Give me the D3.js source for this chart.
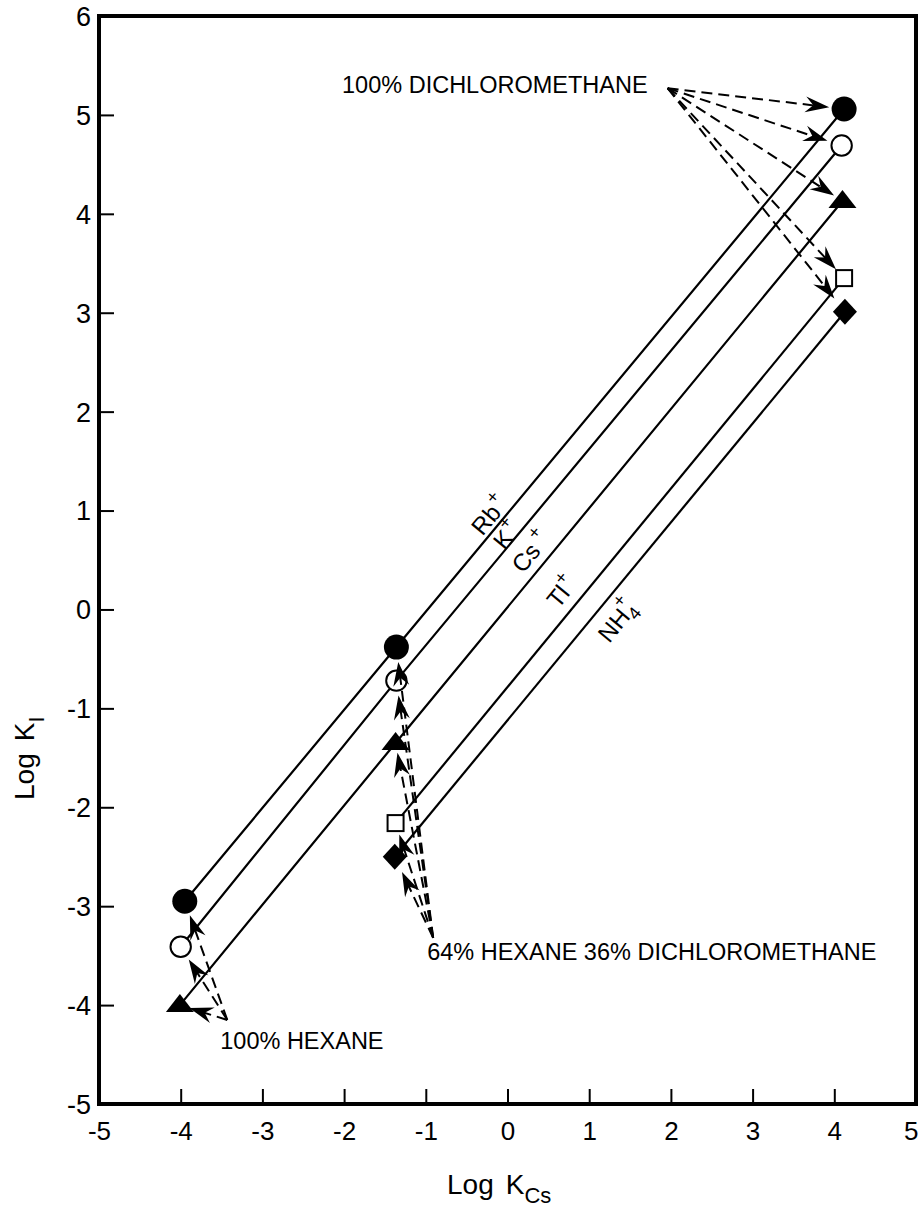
<!DOCTYPE html>
<html>
<head>
<meta charset="utf-8">
<script src="https://cdn.jsdelivr.net/npm/d3@7"></script>
<style>
  html, body { margin: 0; padding: 0; background: #fff; }
  svg { display: block; font-family: "Liberation Sans", Arial, Helvetica, sans-serif; }
</style>
</head>
<body>
<svg id="chart" width="919" height="1208"></svg>
<script>
// Log K_I plotted against Log K_Cs for five cations in three solvents.
const xTickValues = [-5, -4, -3, -2, -1, 0, 1, 2, 3, 4, 5];
const yTickValues = [-5, -4, -3, -2, -1, 0, 1, 2, 3, 4, 5, 6];

// Points ordered hexane -> 64% hexane / 36% CH2Cl2 -> dichloromethane
const rbLogKCs = [-3.95, -1.36, 4.12];
const rbLogK   = [-2.95, -0.38, 5.06];
const kLogKCs  = [-4.00, -1.36, 4.09];
const kLogK    = [-3.41, -0.72, 4.69];
const csLogKCs = [-4.01, -1.37, 4.10];
const csLogK   = [-4.00, -1.35, 4.13];
const tlLogKCs = [-1.37, 4.12];
const tlLogK   = [-2.16, 3.35];
const nhLogKCs = [-1.38, 4.13];
const nhLogK   = [-2.50, 3.01];

// Solvent call-outs: text and the point the arrows fan out from
const solventNames   = ["100% DICHLOROMETHANE", "64% HEXANE 36% DICHLOROMETHANE", "100% HEXANE"];
const solventAnchorX = [1.96, -0.91, -3.43];
const solventAnchorY = [5.27, -3.32, -4.15];

const series = [
  { ion: "Rb", x: rbLogKCs, y: rbLogK, symbol: "filledCircle" },
  { ion: "K",  x: kLogKCs,  y: kLogK,  symbol: "openCircle" },
  { ion: "Cs", x: csLogKCs, y: csLogK, symbol: "triangle" },
  { ion: "Tl", x: tlLogKCs, y: tlLogK, symbol: "square" },
  { ion: "NH4", x: nhLogKCs, y: nhLogK, symbol: "diamond" }
];

// Which point of which series each arrow of a call-out points at
const calloutTargets = [
  [[0, 2], [1, 2], [2, 2], [3, 1], [4, 1]],
  [[0, 1], [1, 1], [2, 1], [3, 0], [4, 0]],
  [[0, 0], [1, 0], [2, 0]]
];

const plot = { left: 99, right: 916, top: 16, bottom: 1104 };

const x = d3.scaleLinear().domain([-5, 5]).range([plot.left, plot.right]);
const y = d3.scaleLinear().domain([-5, 6]).range([plot.bottom, plot.top]);

const svg = d3.select("#chart");

// ---- axes (ticks point into the plot) ----
const xAxis = d3.axisBottom(x).tickValues(xTickValues).tickSizeInner(-15).tickSizeOuter(0)
  .tickFormat(d => String(d));
const gx = svg.append("g").attr("transform", `translate(0,${plot.bottom})`).call(xAxis);
gx.select(".domain").remove();
gx.selectAll(".tick line").attr("stroke", "#000").attr("stroke-width", 2)
  .filter(d => d === -5 || d === 5).remove();
gx.selectAll(".tick text").attr("y", 36).attr("dy", 0).attr("fill", "#000")
  .attr("font-size", 26).attr("font-family", null);
gx.selectAll(".tick text").filter(d => d === 5).attr("text-anchor", "end").attr("x", 2);

const yAxis = d3.axisLeft(y).tickValues(yTickValues).tickSizeInner(-15).tickSizeOuter(0)
  .tickFormat(d => String(d));
const gy = svg.append("g").attr("transform", `translate(${plot.left},0)`).call(yAxis);
gy.select(".domain").remove();
gy.selectAll(".tick line").attr("stroke", "#000").attr("stroke-width", 2)
  .filter(d => d === -5 || d === 6).remove();
gy.selectAll(".tick text").attr("x", -8).attr("dy", "0.35em").attr("fill", "#000")
  .attr("font-size", 27).attr("font-family", null);

// frame
svg.append("rect")
  .attr("x", plot.left).attr("y", plot.top)
  .attr("width", plot.right - plot.left).attr("height", plot.bottom - plot.top)
  .attr("fill", "none").attr("stroke", "#000").attr("stroke-width", 4);

// axis titles
const xTitle = svg.append("text").attr("x", 447).attr("y", 1194).attr("font-size", 28).attr("fill", "#000");
xTitle.append("tspan").text("Log");
xTitle.append("tspan").attr("dx", 12).text("K");
xTitle.append("tspan").attr("dy", 9).attr("font-size", 22).text("Cs");

const yTitle = svg.append("text").attr("transform", "translate(34,800) rotate(-90)")
  .attr("font-size", 28).attr("fill", "#000");
yTitle.append("tspan").text("Log");
yTitle.append("tspan").attr("dx", 12).text("K");
yTitle.append("tspan").attr("dy", 10).attr("font-size", 22).text("I");

// ---- correlation lines ----
const line = d3.line().x(d => x(d[0])).y(d => y(d[1]));
const gLines = svg.append("g");
series.forEach(s => {
  const pts = s.x.map((v, i) => [v, s.y[i]]);
  gLines.append("path").attr("d", line(pts))
    .attr("fill", "none").attr("stroke", "#000").attr("stroke-width", 2.2);
});

// ---- ion labels laid along their lines ----
const labelPlacement = {
  Rb:  { at: -0.10, offset: 15 },
  K:   { at: 0.09,  offset: 13 },
  Cs:  { at: 0.45,  offset: 20 },
  Tl:  { at: 0.84,  offset: 21 },
  NH4: { at: 1.14,  offset: -19 }
};
const gLabels = svg.append("g").attr("font-size", 24).attr("fill", "#000");
series.forEach(s => {
  const n = s.x.length - 1;
  const along = d3.scaleLinear().domain([s.x[0], s.x[n]]).range([s.y[0], s.y[n]]);
  const px0 = x(s.x[0]), py0 = y(s.y[0]), px1 = x(s.x[n]), py1 = y(s.y[n]);
  const len = Math.hypot(px1 - px0, py1 - py0);
  const ux = (px1 - px0) / len, uy = (py1 - py0) / len;
  const angle = Math.atan2(uy, ux) * 180 / Math.PI;
  const p = labelPlacement[s.ion];
  const cx = x(p.at) + uy * p.offset;
  const cy = y(along(p.at)) - ux * p.offset;
  const t = gLabels.append("text")
    .attr("transform", `translate(${cx},${cy}) rotate(${angle})`)
    .attr("text-anchor", "middle").attr("dy", "0.45em");
  if (s.ion === "NH4") {
    t.append("tspan").text("NH");
    t.append("tspan").attr("font-size", 18).attr("dy", 6).text("4");
    t.append("tspan").attr("font-size", 18).attr("dx", -10).attr("dy", -20).text("+");
  } else {
    t.append("tspan").text(s.ion);
    t.append("tspan").attr("font-size", 18).attr("dx", s.ion === "Cs" ? 5 : 1).attr("dy", -12).text("+");
  }
});

// ---- markers ----
const markerGap = { filledCircle: 15, openCircle: 15, triangle: 10, square: 12, diamond: 17 };
function drawMarker(g, kind, cx, cy) {
  if (kind === "filledCircle") {
    g.append("circle").attr("cx", cx).attr("cy", cy).attr("r", 12.5).attr("fill", "#000");
  } else if (kind === "openCircle") {
    g.append("circle").attr("cx", cx).attr("cy", cy).attr("r", 10.2)
      .attr("fill", "#fff").attr("stroke", "#000").attr("stroke-width", 2);
  } else if (kind === "triangle") {
    g.append("path")
      .attr("d", `M${cx},${cy - 11}L${cx + 14},${cy + 7}L${cx - 14},${cy + 7}Z`)
      .attr("fill", "#000");
  } else if (kind === "square") {
    g.append("rect").attr("x", cx - 8).attr("y", cy - 8).attr("width", 16).attr("height", 16)
      .attr("fill", "#fff").attr("stroke", "#000").attr("stroke-width", 2);
  } else if (kind === "diamond") {
    g.append("path")
      .attr("d", `M${cx},${cy - 13}L${cx + 12},${cy}L${cx},${cy + 13}L${cx - 12},${cy}Z`)
      .attr("fill", "#000");
  }
}
const gMarks = svg.append("g");
series.forEach(s => {
  s.x.forEach((v, i) => drawMarker(gMarks, s.symbol, x(v), y(s.y[i])));
});

// ---- solvent call-outs with dashed arrows ----
const gCall = svg.append("g");
const textPlacement = [
  { dx: -20, dy: 5, anchor: "end" },
  { dx: -6, dy: 22, anchor: "start" },
  { dx: -7, dy: 29, anchor: "start" }
];
solventNames.forEach((name, k) => {
  const ax = x(solventAnchorX[k]), ay = y(solventAnchorY[k]);
  calloutTargets[k].forEach(([si, pi]) => {
    const s = series[si];
    const tx = x(s.x[pi]), ty = y(s.y[pi]);
    const dist = Math.hypot(tx - ax, ty - ay);
    const ux = (tx - ax) / dist, uy = (ty - ay) / dist;
    const gap = markerGap[s.symbol];
    const tipX = tx - ux * gap, tipY = ty - uy * gap;
    const endX = tipX - ux * 14, endY = tipY - uy * 14;
    gCall.append("line")
      .attr("x1", ax).attr("y1", ay).attr("x2", endX).attr("y2", endY)
      .attr("stroke", "#000").attr("stroke-width", 2).attr("stroke-dasharray", "11,6");
    const ang = Math.atan2(uy, ux) * 180 / Math.PI;
    gCall.append("path")
      .attr("transform", `translate(${tipX},${tipY}) rotate(${ang})`)
      .attr("d", "M0,0L-24,-8L-16,0L-24,8Z")
      .attr("fill", "#000");
  });
  const tp = textPlacement[k];
  gCall.append("text")
    .attr("x", ax + tp.dx).attr("y", ay + tp.dy)
    .attr("text-anchor", tp.anchor)
    .attr("font-size", 23.5).attr("fill", "#000")
    .text(name);
});
</script>
</body>
</html>
